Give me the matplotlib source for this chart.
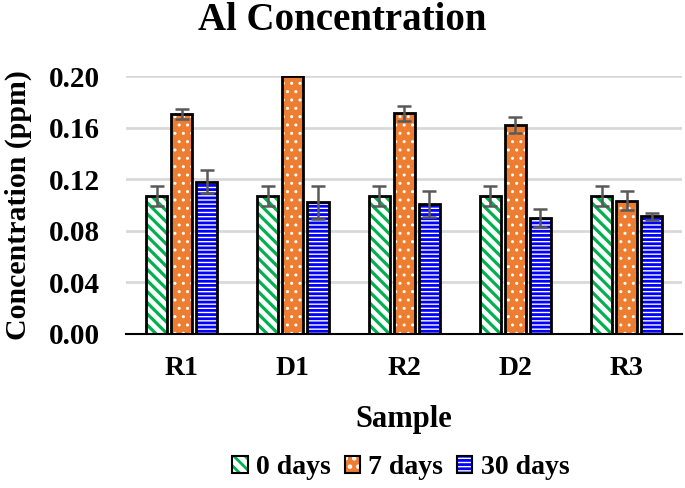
import matplotlib
matplotlib.use("Agg")
import matplotlib.pyplot as plt
from matplotlib.patches import Patch
import numpy as np

# data
samples = ["R1", "D1", "R2", "D2", "R3"]
days_0 = [0.107, 0.107, 0.107, 0.107, 0.107]
days_0_err = [0.0075, 0.0075, 0.0075, 0.0075, 0.0075]
days_7 = [0.1706, 0.200, 0.171, 0.1623, 0.1033]
days_7_err = [0.0035, 0.0, 0.0062, 0.0062, 0.0075]
days_30 = [0.118, 0.102, 0.1007, 0.0899, 0.0914]
days_30_err = [0.009, 0.0127, 0.010, 0.0072, 0.0027]
series_labels = ["0 days", "7 days", "30 days"]

plt.rcParams["font.family"] = ["Liberation Serif", "DejaVu Serif"]
plt.rcParams["font.weight"] = "bold"

fig = plt.figure(figsize=(6.85, 4.88), dpi=100)
ax = fig.add_axes([0.184, 0.316, 0.812, 0.528])

x = np.arange(len(samples))
w = 0.19
off = 0.225

styles = [
    # values, errors, face, hatch colour, hatch, hatch linewidth
    (days_0, days_0_err, "white", "#00b050", "\\\\\\", 2.3),
    (days_7, days_7_err, "#ed7d31", "white", "..", 1.0),
    (days_30, days_30_err, "white", "#0000ff", "----", 2.0),
]

handles = []
for i, (vals, errs, face, hcol, hatch, hlw) in enumerate(styles):
    pos = x + (i - 1) * off
    plt.rcParams["hatch.linewidth"] = hlw
    ax.bar(pos, vals, w, color=face, edgecolor=hcol, hatch=hatch,
           linewidth=0, zorder=2)
    ax.bar(pos, vals, w, color="none", edgecolor="black", linewidth=2, zorder=3)
    e = np.array(errs)
    mask = e > 0
    ax.errorbar(pos[mask], np.array(vals)[mask], yerr=e[mask], fmt="none",
                ecolor="#595959", elinewidth=1.8, capsize=5, capthick=1.8, zorder=4)
    # legend swatch: hatched fill with a black outline on top
    fill = Patch(facecolor=face, edgecolor=hcol, hatch=hatch, linewidth=0)
    outline = Patch(facecolor="none", edgecolor="black", linewidth=1.5)
    handles.append((fill, outline))

ax.set_ylim(0, 0.20)
ax.set_xlim(-0.5, len(samples) - 0.5)
yt = np.arange(0, 0.201, 0.04)
ax.set_yticks(yt)
ax.set_yticklabels([f"{v:.2f}" for v in yt])
ax.set_xticks(x)
ax.set_xticklabels(samples)
ax.tick_params(axis="x", length=0, labelsize=20, pad=16)
ax.tick_params(axis="y", length=0, labelsize=21, pad=19)
ax.yaxis.grid(True, color="#d9d9d9", linewidth=2)
ax.set_axisbelow(True)
for s in ["top", "right", "left"]:
    ax.spines[s].set_visible(False)
ax.spines["bottom"].set_linewidth(1.5)
ax.spines["bottom"].set_zorder(5)

fig.text(0.5, 0.995, "Al Concentration", fontsize=28, fontweight="bold",
         ha="center", va="top")
ax.set_ylabel("Concentration (ppm)", fontsize=21.5, fontweight="bold", labelpad=12)
ax.set_xlabel("Sample", fontsize=22, fontweight="bold", labelpad=17)

fig.legend(handles=handles, labels=series_labels, loc="center",
           bbox_to_anchor=(0.585, 0.042), ncol=3, frameon=False,
           fontsize=20, handlelength=0.55, handleheight=0.55,
           handletextpad=0.3, columnspacing=0.5)

fig.savefig("out.png", dpi=100)
